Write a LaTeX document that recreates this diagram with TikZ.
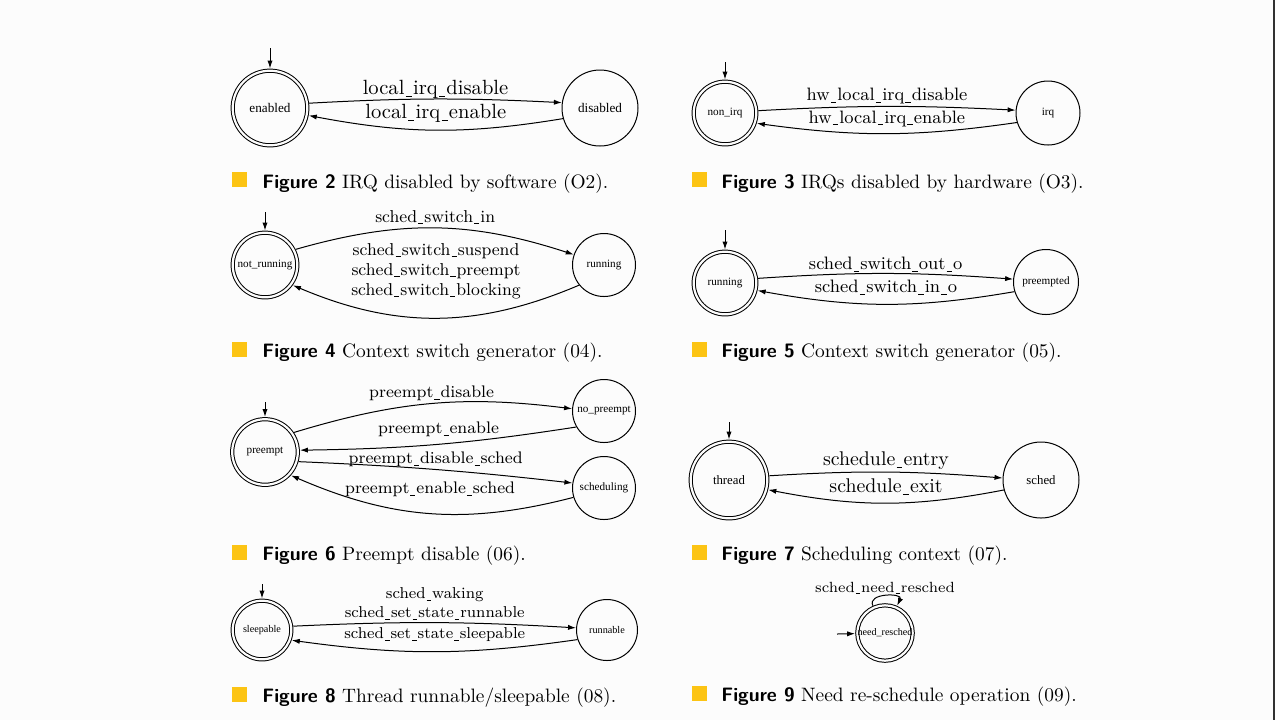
\documentclass[tikz,border=0pt]{standalone}
\usepackage{fontspec}
\usepackage{tikz}
\usetikzlibrary{arrows.meta, positioning}
\newfontfamily\gvfont{Liberation Serif}
\definecolor{capyellow}{RGB}{252, 196, 20}
\definecolor{pagegray}{RGB}{252, 252, 252}
\definecolor{edgegray}{RGB}{50, 50, 50}
\newcommand{\gv}[2]{\gvfont\fontsize{#1}{#2}\selectfont}
\newcommand{\tr}[2]{\fontsize{#1}{#2}\selectfont}
\newcommand{\us}{\leavevmode\kern.06em\vrule width.3em height-0.07em depth0.11em\kern.06em}
\newcommand{\capt}[2]{{\sffamily\bfseries Figure~#1} #2}

\begin{document}
\begin{tikzpicture}[x=0.5pt, y=0.5pt,
    fsm/.style={draw, circle, inner sep=0pt, line width=0.5pt, minimum size=#1},
    fsmstart/.style={fsm=#1, double=pagegray, double distance=1.1pt, outer sep=1.1pt},
    trans/.style={-{Latex[length=4pt, width=2.6pt]}, line width=0.5pt},
    lbl/.style={midway, inner sep=0pt},
    captext/.style={anchor=base west, inner sep=0pt, font=\fontsize{9.7pt}{12pt}\selectfont}]
  \useasboundingbox (0,0) rectangle (1275,-720);
  % page
  \fill[pagegray] (0,0) rectangle (1275,-720);
  \fill[edgegray] (1273,0) rectangle (1275,-720);

  % Figure 2: IRQ disabled by software
  \node[fsmstart=37.3pt, font=\gv{6.6pt}{7pt}] (enabled) at (270,-108) {enabled};
  \node[fsm=38pt, font=\gv{6.6pt}{7pt}] (disabled) at (600,-108) {disabled};
  \coordinate (enabled-init) at (270,-48);
  \draw[trans] (enabled-init) -- (enabled);
  \draw[trans] (enabled.7) to[bend left=3]
    node[lbl, yshift=5pt, font=\tr{10.29pt}{11pt}] {local\us{}irq\us{}disable} (disabled.172);
  \draw[trans] (disabled.196) to[bend left=10]
    node[lbl, yshift=8.5pt, font=\tr{10.29pt}{11pt}] {local\us{}irq\us{}enable} (enabled.-11);
  \fill[capyellow] (232,-172) rectangle (247,-187);
  \node[captext] (cap2) at (262,-188) {\capt{2}{IRQ disabled by software (O2).}};

  % Figure 3: IRQs disabled by hardware
  \node[fsmstart=31.3pt, font=\gv{5.6pt}{6pt}] (nonirq) at (725,-113) {non\_irq};
  \node[fsm=32pt, font=\gv{5.6pt}{6pt}] (irq) at (1048,-113) {irq};
  \coordinate (nonirq-init) at (725,-62);
  \draw[trans] (nonirq-init) -- (nonirq);
  \draw[trans] (nonirq.4) to[bend left=3]
    node[lbl, yshift=5pt, font=\tr{8.98pt}{10pt}] {hw\us{}local\us{}irq\us{}disable} (irq.175);
  \draw[trans] (irq.197) to[bend left=8]
    node[lbl, yshift=7.5pt, font=\tr{8.98pt}{10pt}] {hw\us{}local\us{}irq\us{}enable} (nonirq.-18);
  \fill[capyellow] (692,-172) rectangle (707,-187);
  \node[captext] (cap3) at (721,-188) {\capt{3}{IRQs disabled by hardware (O3).}};

  % Figure 4: context switch generator
  \node[fsmstart=32.3pt, font=\gv{5.6pt}{6pt}] (notrunning) at (265,-265) {not\_running};
  \node[fsm=31.5pt, font=\gv{5.6pt}{6pt}] (running) at (604,-265) {running};
  \coordinate (notrunning-init) at (265,-212);
  \draw[trans] (notrunning-init) -- (notrunning);
  \draw[trans] (notrunning.27) to[bend left=17]
    node[lbl, yshift=5.5pt, font=\tr{8.61pt}{10pt}] {sched\us{}switch\us{}in} (running.161);
  \draw[trans] (running.219) to[bend left=23]
    node[lbl, yshift=23.5pt, align=center, font=\tr{8.61pt}{10pt}]
    {sched\us{}switch\us{}suspend\\sched\us{}switch\us{}preempt\\sched\us{}switch\us{}blocking} (notrunning.-36);
  \fill[capyellow] (232,-342) rectangle (247,-357);
  \node[captext] (cap4) at (262,-357) {\capt{4}{Context switch generator (04).}};

  % Figure 5: context switch generator
  \node[fsmstart=31.3pt, font=\gv{5.6pt}{6pt}] (runningo) at (725,-283) {running};
  \node[fsm=32.5pt, font=\gv{5.6pt}{6pt}] (preempted) at (1046,-282) {preempted};
  \coordinate (runningo-init) at (725,-230);
  \draw[trans] (runningo-init) -- (runningo);
  \draw[trans] (runningo.8) to[bend left=4]
    node[lbl, yshift=4.5pt, font=\tr{9pt}{10pt}] {sched\us{}switch\us{}out\us{}o} (preempted.175);
  \draw[trans] (preempted.197) to[bend left=10]
    node[lbl, yshift=8.5pt, font=\tr{9pt}{10pt}] {sched\us{}switch\us{}in\us{}o} (runningo.-13);
  \fill[capyellow] (692,-342) rectangle (707,-357);
  \node[captext] (cap5) at (721,-357) {\capt{5}{Context switch generator (05).}};

  % Figure 6: preempt disable
  \node[fsmstart=32.8pt, font=\gv{5.6pt}{6pt}] (preempt) at (265,-452) {preempt};
  \node[fsm=31.5pt, font=\gv{5.6pt}{6pt}] (nopreempt) at (604,-411) {no\_preempt};
  \node[fsm=31.5pt, font=\gv{5.6pt}{6pt}] (scheduling) at (604,-488) {scheduling};
  \coordinate (preempt-init) at (265,-402);
  \draw[trans] (preempt-init) -- (preempt);
  \draw[trans] (preempt.34) to[bend left=12]
    node[lbl, yshift=5pt, font=\tr{8.38pt}{10pt}] {preempt\us{}disable} (nopreempt.176);
  \draw[trans] (nopreempt.210) to[bend left=4]
    node[lbl, yshift=7.5pt, font=\tr{8.38pt}{10pt}] {preempt\us{}enable} (preempt.3);
  \draw[trans] (preempt.-16) to[bend left=2]
    node[lbl, yshift=5pt, font=\tr{8.38pt}{10pt}] {preempt\us{}disable\us{}sched} (scheduling.171);
  \draw[trans] (scheduling.197) to[bend left=19]
    node[lbl, yshift=12pt, font=\tr{8.38pt}{10pt}] {preempt\us{}enable\us{}sched} (preempt.-42);
  \fill[capyellow] (232,-545) rectangle (247,-560);
  \node[captext] (cap6) at (262,-560) {\capt{6}{Preempt disable (06).}};

  % Figure 7: scheduling context
  \node[fsmstart=38.3pt, font=\gv{6.4pt}{7pt}] (thread) at (729,-480) {thread};
  \node[fsm=38pt, font=\gv{6.4pt}{7pt}] (sched) at (1041,-480) {sched};
  \coordinate (thread-init) at (729,-422);
  \draw[trans] (thread-init) -- (thread);
  \draw[trans] (thread.6) to[bend left=4]
    node[lbl, yshift=5.5pt, font=\tr{9.92pt}{11pt}] {schedule\us{}entry} (sched.177);
  \draw[trans] (sched.195) to[bend left=11]
    node[lbl, yshift=8pt, font=\tr{9.92pt}{11pt}] {schedule\us{}exit} (thread.-14);
  \fill[capyellow] (692,-545) rectangle (707,-560);
  \node[captext] (cap7) at (721,-560) {\capt{7}{Scheduling context (07).}};

  % Figure 8: thread runnable/sleepable
  \node[fsmstart=29.3pt, font=\gv{5.1pt}{6pt}] (sleepable) at (262,-630) {sleepable};
  \node[fsm=30.5pt, font=\gv{5.1pt}{6pt}] (runnable) at (607,-630) {runnable};
  \coordinate (sleepable-init) at (262,-584);
  \draw[trans] (sleepable-init) -- (sleepable);
  \draw[trans] (sleepable.7) to[bend left=3]
    node[lbl, yshift=9.5pt, align=center, font=\tr{7.89pt}{9.5pt}]
    {sched\us{}waking\\sched\us{}set\us{}state\us{}runnable} (runnable.176);
  \draw[trans] (runnable.198) to[bend left=8]
    node[lbl, yshift=8.5pt, font=\tr{7.89pt}{9.5pt}] {sched\us{}set\us{}state\us{}sleepable} (sleepable.-19);
  \fill[capyellow] (232,-687) rectangle (247,-702);
  \node[captext] (cap8) at (262,-702) {\capt{8}{Thread runnable/sleepable (08).}};

  % Figure 9: need re-schedule operation
  \node[fsmstart=27.3pt, font=\gv{5.05pt}{6pt}] (needresched) at (885,-633) {need\_resched};
  \coordinate (needresched-init) at (837,-634);
  \draw[trans] (needresched-init) -- (needresched);
  \draw[trans] (needresched.114) to[out=115, in=65, looseness=1.5]
    node[lbl, yshift=4pt, font=\tr{7.38pt}{8pt}] {sched\us{}need\us{}resched} (needresched.66);
  \fill[capyellow] (692,-686) rectangle (707,-701);
  \node[captext] (cap9) at (721,-701) {\capt{9}{Need re-schedule operation (09).}};
\end{tikzpicture}
\end{document}
